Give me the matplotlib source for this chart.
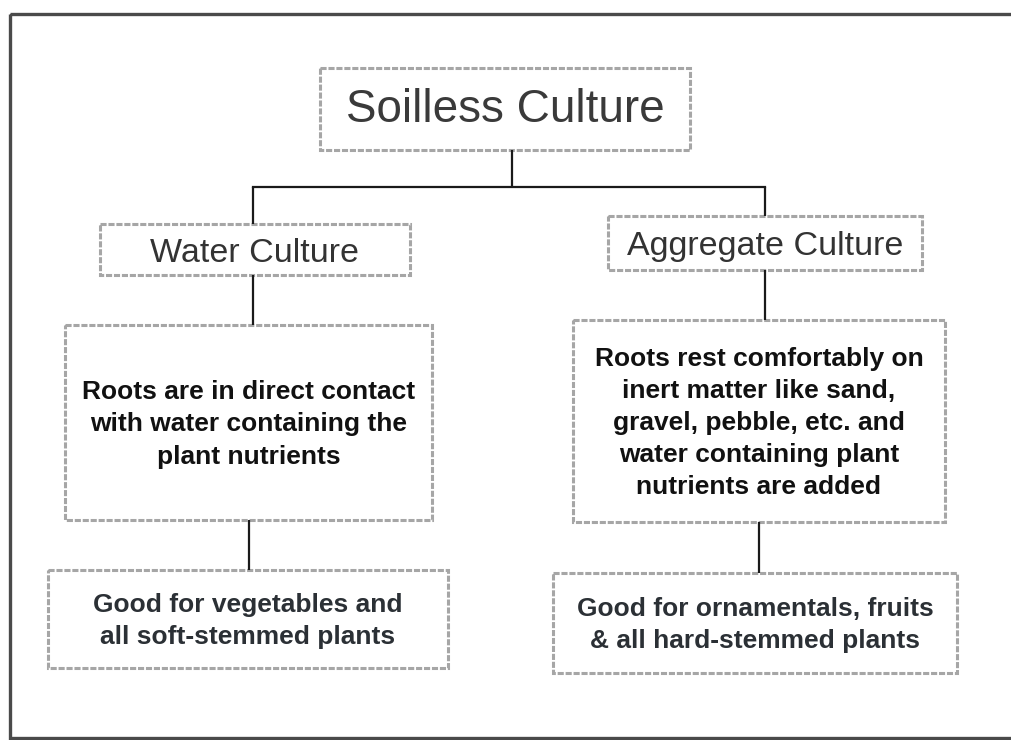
import matplotlib.pyplot as plt
from matplotlib.patches import Rectangle

plt.rcParams["font.family"] = ["Liberation Sans", "DejaVu Sans"]

# 各ボックスのテキスト
title = "Soilless Culture"
branch_labels = ["Water Culture", "Aggregate Culture"]
detail_labels = [
    "Roots are in direct contact\nwith water containing the\nplant nutrients",
    "Roots rest comfortably on\ninert matter like sand,\ngravel, pebble, etc. and\nwater containing plant\nnutrients are added",
]
use_labels = [
    "Good for vegetables and\nall soft-stemmed plants",
    "Good for ornamentals, fruits\n& all hard-stemmed plants",
]

# レイアウト (ピクセル座標: x0, y0, x1, y1)
title_box = (320, 68, 690, 150)
branch_boxes = [(100, 224, 410, 275), (608, 216, 922, 270)]
detail_boxes = [(65, 325, 432, 520), (573, 320, 945, 522)]
use_boxes = [(48, 570, 448, 668), (553, 573, 957, 673)]
title_stem_x = 512
branch_x = [253, 765]
bar_y = 187

W, H = 1011, 740
fig = plt.figure(figsize=(W / 100, H / 100), dpi=100)
ax = fig.add_axes([0, 0, 1, 1])
ax.set_xlim(0, W)
ax.set_ylim(H, 0)
ax.axis("off")

box_color = "#a6a6a6"
line_color = "#1a1a1a"


def draw_box(b, text, size, weight="normal", color="#222222", ls=1.0, dy=0):
    x0, y0, x1, y1 = b
    ax.add_patch(Rectangle((x0, y0), x1 - x0, y1 - y0, fill=False,
                           edgecolor=box_color, linewidth=2.2, linestyle=(0, (2, 0.6))))
    ax.text((x0 + x1) / 2, (y0 + y1) / 2 + dy, text, ha="center", va="center",
            fontsize=size, fontweight=weight, color=color, linespacing=ls)


def vline(x, y0, y1):
    ax.plot([x, x], [y0, y1], color=line_color, lw=1.6, solid_capstyle="butt")


# 外枠
ax.add_patch(Rectangle((10, 14), W, H - 16, fill=False, edgecolor="#4a4a4a", linewidth=2.4))

draw_box(title_box, title, 33, color="#3a3a3a", dy=1)
for b, t in zip(branch_boxes, branch_labels):
    draw_box(b, t, 24.5, color="#333333", dy=4)
for b, t in zip(detail_boxes, detail_labels):
    draw_box(b, t, 19, weight="bold", color="#111111", ls=1.43, dy=2)
for b, t in zip(use_boxes, use_labels):
    draw_box(b, t, 19, weight="bold", color="#2b3035", ls=1.43, dy=2)

# 接続線
vline(title_stem_x, title_box[3], bar_y)
ax.plot([branch_x[0], branch_x[1]], [bar_y, bar_y], color=line_color, lw=1.6)
for i in range(2):
    vline(branch_x[i], bar_y, branch_boxes[i][1])
    vline(branch_x[i], branch_boxes[i][3], detail_boxes[i][1])
    dx = (detail_boxes[i][0] + detail_boxes[i][2]) / 2
    vline(dx, detail_boxes[i][3], use_boxes[i][1])

fig.savefig("out.png", dpi=100)
